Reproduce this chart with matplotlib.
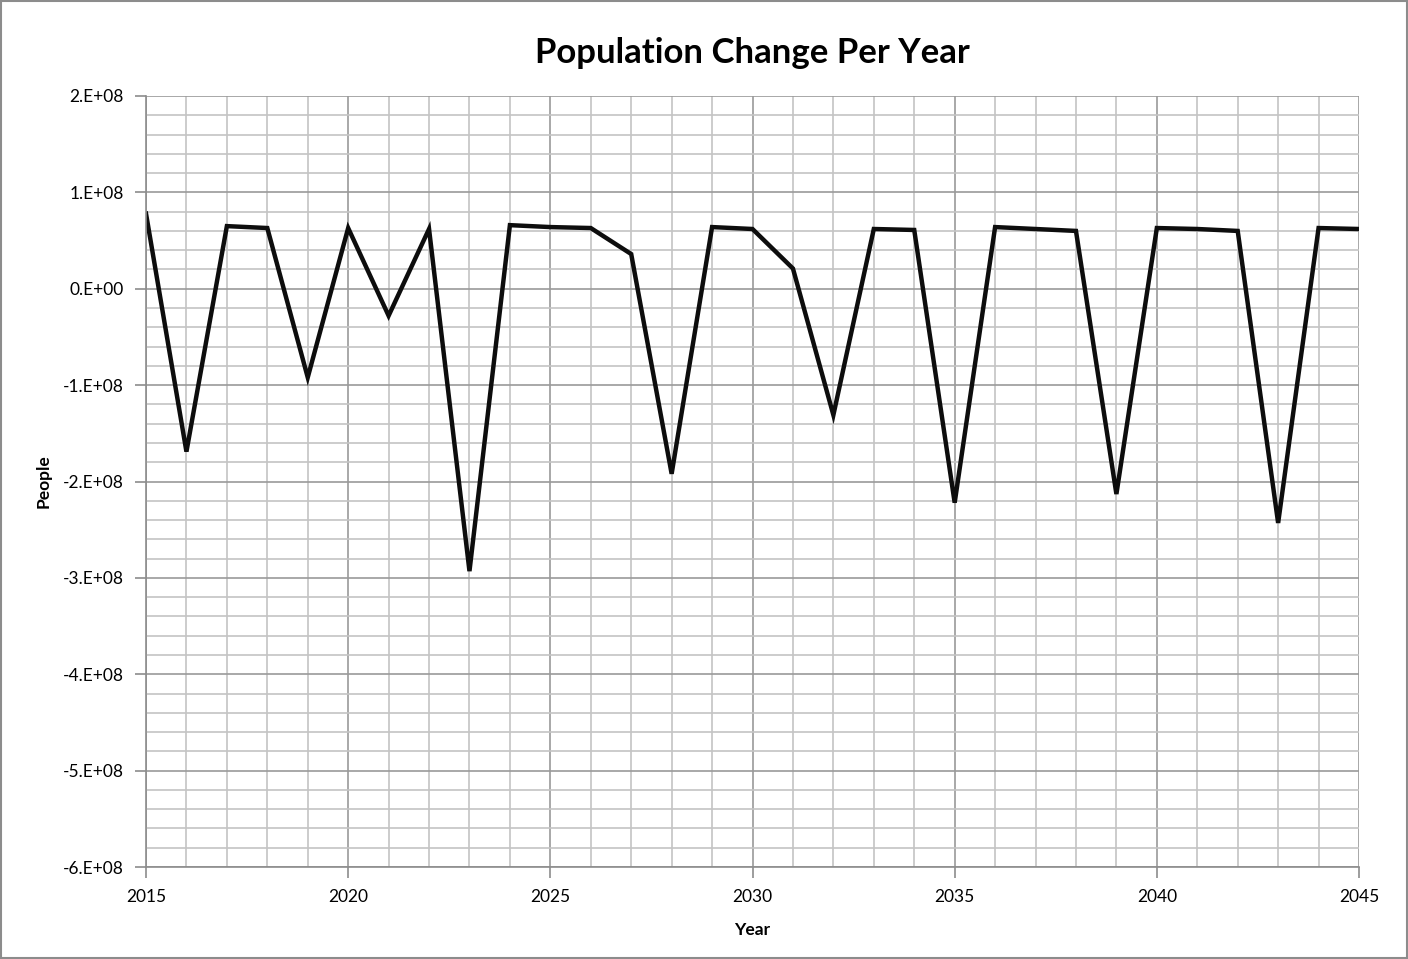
import matplotlib
matplotlib.use('Agg')

import matplotlib.pyplot as plt
from matplotlib.ticker import MultipleLocator, FuncFormatter

years = list(range(2015, 2046))
change = [
    7.8e7, -1.69e8, 6.5e7, 6.3e7, -9.2e7, 6.3e7, -2.8e7, 6.2e7,
    -2.93e8, 6.6e7, 6.4e7, 6.3e7, 3.6e7, -1.92e8, 6.4e7, 6.2e7,
    2.1e7, -1.31e8, 6.2e7, 6.1e7, -2.22e8, 6.4e7, 6.2e7, 6.0e7,
    -2.13e8, 6.3e7, 6.2e7, 6.0e7, -2.43e8, 6.3e7, 6.2e7,
]

plt.rcParams['font.family'] = ['Lato', 'DejaVu Sans']

fig = plt.figure(figsize=(14.08, 9.59), dpi=100)
ax = fig.add_axes([0.1037, 0.0959, 0.8615, 0.804])

ax.plot(years, change, color="#0d0d0d", linewidth=3.2, solid_joinstyle="miter")

ax.set_xlim(2015, 2045)
ax.set_ylim(-6e8, 2e8)

ax.xaxis.set_major_locator(MultipleLocator(5))
ax.xaxis.set_minor_locator(MultipleLocator(1))
ax.yaxis.set_major_locator(MultipleLocator(1e8))
ax.yaxis.set_minor_locator(MultipleLocator(2e7))

# Excel-style scientific labels: 2.E+08, 0.E+00
ax.yaxis.set_major_formatter(FuncFormatter(lambda v, p: "0.E+00" if abs(v) < 1 else f"{v/1e8:.0f}.E+08"))

ax.grid(which="major", color="#9a9a9a", linewidth=1.2)
ax.grid(which="minor", color="#c4c4c4", linewidth=1.2)
ax.set_axisbelow(True)

ax.tick_params(axis="both", which="major", direction="out", length=8, width=1.2,
               color="#8c8c8c", labelsize=12.5, pad=8)
ax.tick_params(axis="both", which="minor", length=0)

for side in ["top", "right", "bottom", "left"]:
    ax.spines[side].set_color("#8c8c8c")
    ax.spines[side].set_linewidth(1.2)
ax.spines["top"].set_visible(False)
ax.spines["right"].set_visible(False)

ax.set_xlabel("Year", fontsize=12.5, fontweight="bold", labelpad=12)
ax.set_ylabel("People", fontsize=12.5, fontweight="bold", labelpad=8)
ax.set_title("Population Change Per Year", fontsize=25, fontweight="bold", pad=24)

# outer chart border
fig.patches.append(plt.Rectangle((0.001, 0.001), 0.998, 0.998, transform=fig.transFigure,
                                 fill=False, edgecolor="#8c8c8c", linewidth=1.5))

fig.savefig("out.png", dpi=100)
plt.close(fig)
